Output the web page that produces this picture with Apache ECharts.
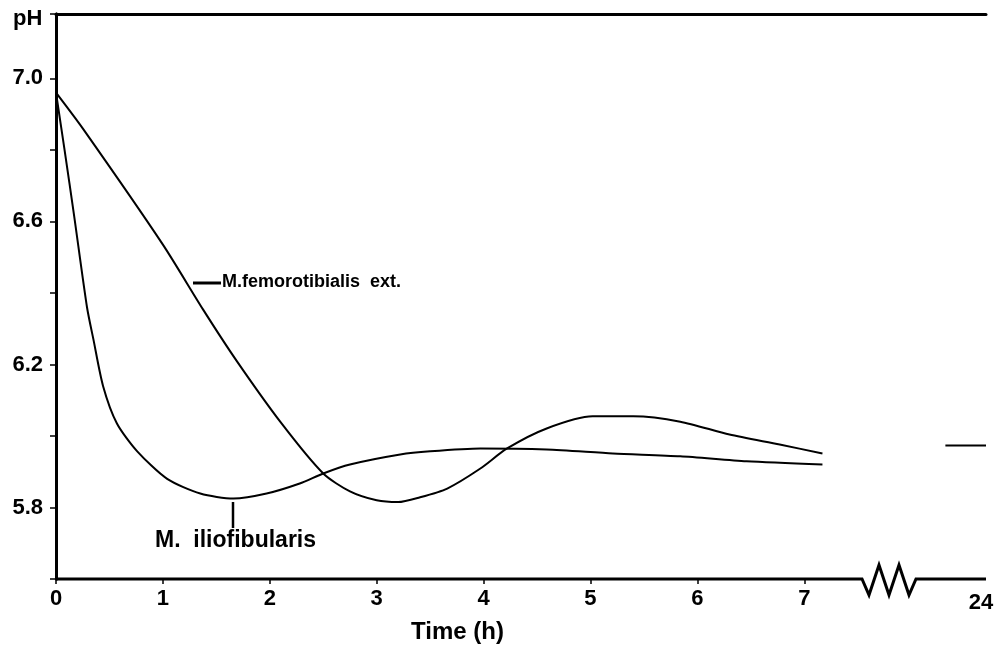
<!DOCTYPE html>
<html>
<head>
<meta charset="utf-8">
<script src="https://cdn.jsdelivr.net/npm/echarts@6/dist/echarts.min.js"></script>
<style>html,body{margin:0;padding:0;background:#fff;}#c{width:1000px;height:657px;}</style>
</head>
<body>
<div id="c"></div>
<script>
// Data
const femoroTime = [0, 0.25, 1.0, 1.375, 1.69, 2.11, 2.50, 2.75, 3.0, 3.2, 3.4, 3.66, 3.97, 4.22, 4.59, 5.02, 5.40, 5.84, 6.30, 6.77, 7.17];
const femoroPH   = [6.96, 6.86, 6.535, 6.354, 6.21, 6.035, 5.895, 5.845, 5.82, 5.815, 5.828, 5.853, 5.909, 5.965, 6.021, 6.055, 6.055, 6.04, 6.004, 5.976, 5.951];
const ilioTime = [0, 0.08, 0.17, 0.29, 0.35, 0.44, 0.57, 0.76, 1.04, 1.35, 1.66, 1.97, 2.28, 2.50, 2.75, 3.22, 3.50, 3.97, 4.59, 5.21, 5.84, 6.46, 7.17];
const ilioPH   = [6.96, 6.80, 6.615, 6.36, 6.27, 6.14, 6.035, 5.957, 5.88, 5.839, 5.825, 5.839, 5.867, 5.895, 5.92, 5.948, 5.957, 5.965, 5.962, 5.951, 5.943, 5.929, 5.92];
const lateTime = [23.62, 24];
const latePH   = [5.973, 5.973];
const xTickLabels = ['0', '1', '2', '3', '4', '5', '6', '7'];
const yTickLabels = ['5.8', '6.2', '6.6', '7.0'];
const lateTickLabels = ['24'];

const zip = (a, b) => a.map((v, i) => [v, b[i]]);

const FONT = '"Liberation Sans", Arial, sans-serif';
const lab = { color: '#000', fontFamily: FONT, fontWeight: 'bold', fontSize: 22 };

const chart = echarts.init(document.getElementById('c'));
const span = 8.70;

chart.setOption({
  animation: false,
  backgroundColor: '#fff',
  grid: { left: 56, top: 14, right: 14, bottom: 78, containLabel: false, outerBoundsMode: 'none' },
  xAxis: [
    {
      type: 'value', min: 0, max: span, interval: 1, position: 'bottom',
      axisLine: { show: false },
      axisTick: { show: true, length: 5, inside: false, lineStyle: { color: '#000', width: 1.5 },
                  customValues: xTickLabels.map(Number) },
      axisLabel: { ...lab, margin: 9, customValues: xTickLabels.map(Number),
                   formatter: v => xTickLabels.includes(String(v)) ? String(v) : '' },
      splitLine: { show: false }
    },
    {
      type: 'value', min: 24 - span, max: 24, position: 'bottom',
      axisLine: { show: false },
      axisTick: { show: false },
      axisLabel: { ...lab, margin: 13, customValues: lateTickLabels.map(Number), align: 'center',
                   formatter: v => '{a|' + String(v) + '}',
                   rich: { a: { ...lab, padding: [0, 10, 0, 0] } } },
      splitLine: { show: false }
    },
    {
      type: 'value', min: 0, max: span, position: 'top',
      axisLine: { show: true, lineStyle: { color: '#000', width: 3 } },
      axisTick: { show: false }, axisLabel: { show: false }, splitLine: { show: false }
    }
  ],
  yAxis: [
    {
      type: 'value', min: 5.6, max: 7.18, interval: 0.2, position: 'left',
      axisLine: { show: true, lineStyle: { color: '#000', width: 3 } },
      axisTick: { show: true, length: 6, lineStyle: { color: '#000', width: 1.5 } },
      axisLabel: { ...lab, margin: 13,
                   formatter: v => { const s = (Math.round(v * 10) / 10).toFixed(1); return yTickLabels.includes(s) && Math.abs(v - Number(s)) < 1e-6 ? s : ''; } },
      splitLine: { show: false }
    },
    {
      type: 'value', min: 5.6, max: 7.18, position: 'right',
      axisLine: { show: true, lineStyle: { color: '#000', width: 3 } },
      axisTick: { show: false }, axisLabel: { show: false }, splitLine: { show: false }
    }
  ],
  series: [
    { type: 'line', name: 'M. femorotibialis ext.', data: zip(femoroTime, femoroPH), xAxisIndex: 0, yAxisIndex: 0,
      smooth: 0.25, symbol: 'none', lineStyle: { color: '#000', width: 2 } },
    { type: 'line', name: 'M. iliofibularis', data: zip(ilioTime, ilioPH), xAxisIndex: 0, yAxisIndex: 0,
      smooth: 0.25, symbol: 'none', lineStyle: { color: '#000', width: 2 } },
    { type: 'line', name: '24 h', data: zip(lateTime, latePH), xAxisIndex: 1, yAxisIndex: 0,
      symbol: 'none', lineStyle: { color: '#000', width: 2 } }
  ],
  graphic: [
    // bottom axis with break zigzag
    { type: 'polyline', z: 10, shape: { points: [[56,579],[862,579],[869,595],[879,565],[889,595],[899,565],[909,595],[916,579],[986,579]] },
      style: { stroke: '#000', lineWidth: 3, fill: null, lineJoin: 'miter' } },
    { type: 'text', left: 13, top: 8, style: { text: 'pH', fill: '#000', font: 'bold 22px ' + FONT } },
    { type: 'text', left: 411, top: 620, style: { text: 'Time (h)', fill: '#000', font: 'bold 24px ' + FONT } },
    // annotation: femorotibialis
    { type: 'line', shape: { x1: 193, y1: 283, x2: 221, y2: 283 }, style: { stroke: '#000', lineWidth: 3 } },
    { type: 'text', left: 222, top: 273, style: { text: 'M.femorotibialis  ext.', fill: '#000', font: 'bold 18px ' + FONT } },
    // annotation: iliofibularis
    { type: 'line', shape: { x1: 233, y1: 502, x2: 233, y2: 528 }, style: { stroke: '#000', lineWidth: 2.5 } },
    { type: 'text', left: 155, top: 529, style: { text: 'M.  iliofibularis', fill: '#000', font: 'bold 23px ' + FONT } }
  ]
});
</script>
</body>
</html>
